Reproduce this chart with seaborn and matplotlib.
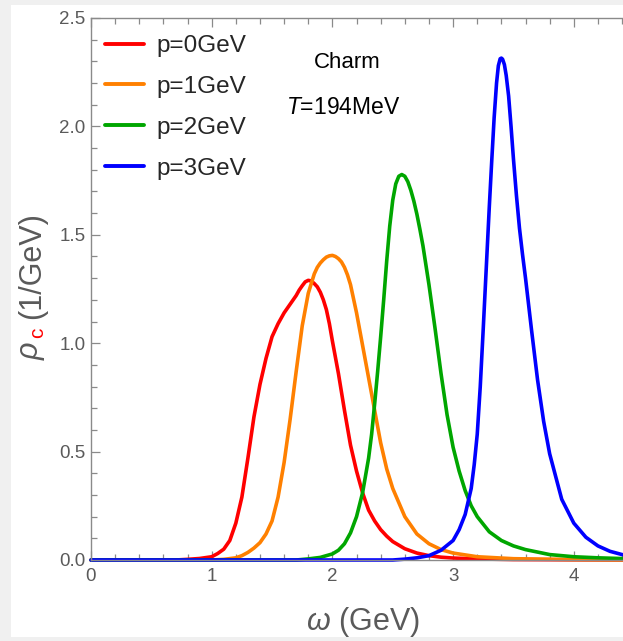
import matplotlib
matplotlib.use("Agg")
import matplotlib.pyplot as plt
import seaborn as sns
import pandas as pd
from matplotlib.patches import Rectangle
from matplotlib.ticker import MultipleLocator, FormatStrFormatter
from matplotlib.lines import Line2D

# ---------------- data ----------------
red_x = [0.0, 0.7, 0.8, 0.9, 1.0, 1.05, 1.1, 1.15, 1.2, 1.25, 1.3, 1.35, 1.4, 1.45, 1.5, 1.55, 1.6, 1.65, 1.7,
         1.725, 1.75, 1.775, 1.8, 1.825, 1.85, 1.875, 1.9, 1.925, 1.95, 1.975, 2.0, 2.05, 2.1, 2.15, 2.2, 2.25,
         2.3, 2.35, 2.4, 2.45, 2.5, 2.6, 2.7, 2.8, 2.9, 3.0, 3.2, 3.5, 4.0, 4.5]
red_y = [0.0, 0.0, 0.003, 0.007, 0.015, 0.03, 0.05, 0.09, 0.17, 0.29, 0.47, 0.66, 0.81, 0.93, 1.03, 1.09, 1.14,
         1.18, 1.22, 1.245, 1.265, 1.283, 1.29, 1.287, 1.275, 1.26, 1.235, 1.2, 1.155, 1.09, 1.01, 0.86, 0.69,
         0.53, 0.41, 0.31, 0.23, 0.18, 0.14, 0.11, 0.085, 0.052, 0.032, 0.02, 0.013, 0.009, 0.005, 0.002, 0.001,
         0.0]

orange_x = [0.0, 1.0, 1.1, 1.2, 1.25, 1.3, 1.35, 1.4, 1.45, 1.5, 1.55, 1.6, 1.65, 1.7, 1.75, 1.8, 1.85, 1.875,
            1.9, 1.925, 1.95, 1.975, 2.0, 2.025, 2.05, 2.075, 2.1, 2.125, 2.15, 2.2, 2.25, 2.3, 2.35, 2.4, 2.45,
            2.5, 2.6, 2.7, 2.8, 2.9, 3.0, 3.2, 3.5, 4.0, 4.5]
orange_y = [0.0, 0.0, 0.003, 0.01, 0.02, 0.035, 0.055, 0.08, 0.12, 0.18, 0.29, 0.45, 0.65, 0.87, 1.08, 1.23,
            1.32, 1.35, 1.37, 1.385, 1.397, 1.403, 1.405, 1.40, 1.39, 1.375, 1.35, 1.315, 1.27, 1.14, 0.99, 0.84,
            0.69, 0.54, 0.42, 0.33, 0.2, 0.12, 0.075, 0.048, 0.032, 0.015, 0.006, 0.002, 0.0]

green_x = [0.0, 1.7, 1.8, 1.9, 2.0, 2.05, 2.1, 2.15, 2.2, 2.25, 2.3, 2.325, 2.35, 2.375, 2.4, 2.425, 2.45, 2.475,
           2.5, 2.525, 2.55, 2.575, 2.6, 2.625, 2.65, 2.675, 2.7, 2.725, 2.75, 2.8, 2.85, 2.9, 2.95, 3.0, 3.05,
           3.1, 3.15, 3.2, 3.3, 3.4, 3.5, 3.6, 3.8, 4.0, 4.2, 4.5]
green_y = [0.0, 0.0, 0.005, 0.012, 0.028, 0.045, 0.075, 0.125, 0.2, 0.31, 0.47, 0.58, 0.72, 0.87, 1.03, 1.2,
           1.38, 1.54, 1.66, 1.735, 1.77, 1.778, 1.77, 1.745, 1.705, 1.655, 1.595, 1.525, 1.45, 1.27, 1.07, 0.86,
           0.67, 0.52, 0.41, 0.32, 0.25, 0.2, 0.13, 0.09, 0.065, 0.048, 0.025, 0.015, 0.01, 0.005]

blue_x = [0.0, 2.5, 2.6, 2.7, 2.8, 2.9, 3.0, 3.05, 3.1, 3.15, 3.175, 3.2, 3.225, 3.25, 3.275, 3.3, 3.32, 3.34,
          3.36, 3.375, 3.39, 3.4, 3.41, 3.425, 3.44, 3.46, 3.48, 3.5, 3.525, 3.55, 3.575, 3.6, 3.65, 3.7, 3.75,
          3.8, 3.9, 4.0, 4.1, 4.2, 4.3, 4.4, 4.5]
blue_y = [0.0, 0.0, 0.004, 0.01, 0.02, 0.045, 0.09, 0.14, 0.21, 0.33, 0.44, 0.58, 0.8, 1.07, 1.35, 1.63, 1.84,
          2.04, 2.2, 2.28, 2.312, 2.315, 2.31, 2.285, 2.235, 2.14, 2.0, 1.85, 1.68, 1.53, 1.41, 1.30, 1.06, 0.83,
          0.64, 0.49, 0.28, 0.17, 0.105, 0.065, 0.04, 0.025, 0.016]

labels = ["p=0GeV", "p=1GeV", "p=2GeV", "p=3GeV"]
colors = ["#ff0000", "#ff8000", "#00a600", "#0000ff"]

frames = []
for lab, xs, ys in zip(labels, [red_x, orange_x, green_x, blue_x], [red_y, orange_y, green_y, blue_y]):
    frames.append(pd.DataFrame({"omega": xs, "rho": ys, "p": lab}))
df = pd.concat(frames, ignore_index=True)

# ---------------- style ----------------
sns.set_style("ticks")
plt.rcParams["font.family"] = ["Liberation Sans", "DejaVu Sans"]
plt.rcParams["mathtext.fontset"] = "custom"
plt.rcParams["mathtext.rm"] = "Liberation Sans"
plt.rcParams["mathtext.it"] = "Liberation Sans:italic"

W, H = 623, 641
fig = plt.figure(figsize=(W / 100, H / 100), dpi=100)
fig.patch.set_facecolor("#f0f0f0")
fig.add_artist(Rectangle((11 / W, 4 / H), 1 - 11 / W, 1 - 9 / H, transform=fig.transFigure,
                         facecolor="white", edgecolor="none", zorder=0))


def px(x, y):
    return x / W, 1 - y / H


x0, x_unit = 91, 120.7
y0, y_top = 560, 18
ax = fig.add_axes([x0 / W, (H - y0) / H, 4.5 * x_unit / W, (y0 - y_top) / H])
ax.set_facecolor("none")

sns.lineplot(data=df, x="omega", y="rho", hue="p", palette=colors, estimator=None, sort=True,
             linewidth=2.6, ax=ax, legend=False)
for ln in ax.get_lines():
    ln.set_clip_on(False)
    ln.set_solid_capstyle("round")
    ln.set_solid_joinstyle("round")

ax.set_xlim(0, 4.5)
ax.set_ylim(0, 2.5)
ax.set_xlabel("")
ax.set_ylabel("")

spine_col = "#8a8a8a"
for s in ["left", "bottom", "top"]:
    ax.spines[s].set_color(spine_col)
    ax.spines[s].set_linewidth(1.0)
ax.spines["right"].set_visible(False)

ax.xaxis.set_major_locator(MultipleLocator(1))
ax.xaxis.set_minor_locator(MultipleLocator(0.2))
ax.yaxis.set_major_locator(MultipleLocator(0.5))
ax.yaxis.set_minor_locator(MultipleLocator(0.1))
ax.yaxis.set_major_formatter(FormatStrFormatter("%.1f"))
ax.tick_params(which="both", direction="in", top=True, right=False, color=spine_col, width=0.9)
ax.tick_params(which="major", length=6.5)
ax.tick_params(which="minor", length=4.2)
ax.tick_params(axis="y", which="major", labelsize=13.5, labelcolor="#5a5a5a", pad=4)
ax.tick_params(axis="x", which="major", labelsize=13.5, labelcolor="#5a5a5a", pad=6)

# legend
handles = [Line2D([], [], color=c, linewidth=2.8) for c in colors]
leg = ax.legend(handles, labels, loc="upper left",
                bbox_to_anchor=((105 - x0) / (4.5 * x_unit), (y0 - 35) / (y0 - y_top)),
                frameon=False, fontsize=17.5, handlelength=1.6, handletextpad=0.5,
                labelspacing=0.78, borderpad=0, borderaxespad=0)

# annotations
fig.text(*px(347, 63), "Charm", ha="center", va="center", fontsize=16, color="black")
fig.text(*px(343, 108), "$T$=194MeV", ha="center", va="center", fontsize=16.5, color="black")

# axis labels
lab_col = "#5a5a5a"
fig.text(*px(363, 622), "$\\omega$ (GeV)", ha="center", va="center", fontsize=22, color=lab_col)
fig.text(*px(31, 351), "\u03c1", rotation=90, ha="center", va="center", fontsize=22, style="italic",
         color=lab_col)
fig.text(*px(38, 333), "c", rotation=90, ha="center", va="center", fontsize=15, color="#ff0000")
fig.text(*px(32, 266), "(1/GeV)", rotation=90, ha="center", va="center", fontsize=22, color=lab_col)

fig.savefig("out.png", dpi=100, facecolor=fig.get_facecolor())
